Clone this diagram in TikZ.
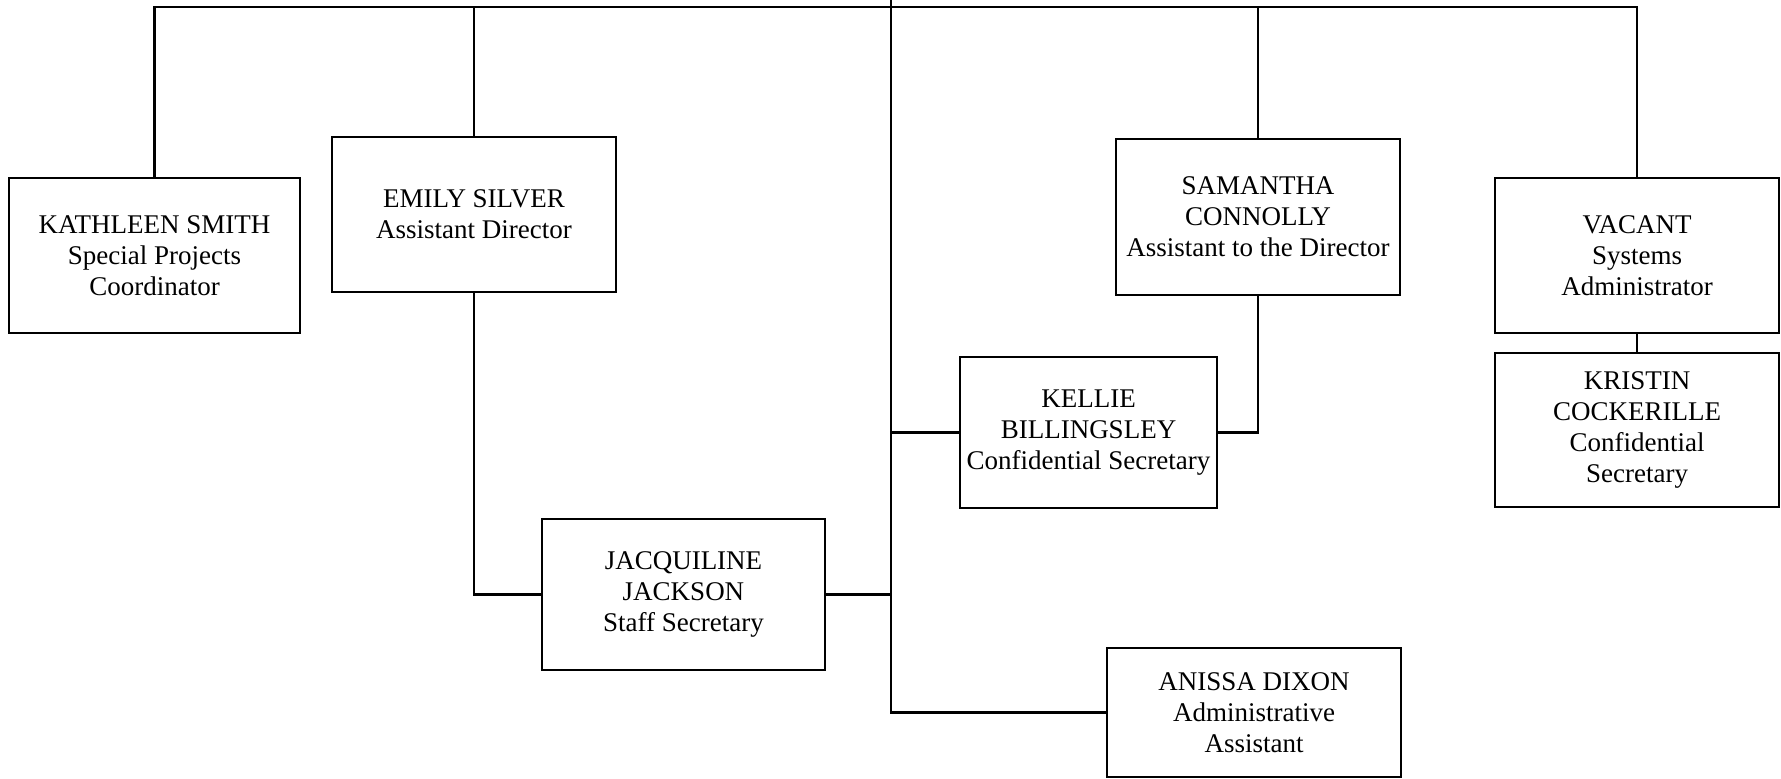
\documentclass[tikz,border=0pt]{standalone}
\usepackage{fontspec}
\setmainfont{Liberation Serif}
\begin{document}
\begin{tikzpicture}[x=1pt,y=-1pt,
  line width=2.6pt,
  box/.style={draw=black, rectangle, inner sep=0pt, align=center,
    font=\fontsize{27}{31}\selectfont, text=black},
  link/.style={draw=black, line width=2.6pt}]
\useasboundingbox (0,0) rectangle (1781,779);
\fill[white] (0,0) rectangle (1781,779);
% boxes (center, width, height)
\node[box, minimum width=291pt, minimum height=155pt] (kathleen) at (154.5,255.5)
  {KATHLEEN SMITH\\Special Projects\\Coordinator};
\node[box, minimum width=284pt, minimum height=155pt] (emily) at (474,214.5)
  {EMILY SILVER\\Assistant Director};
\node[box, minimum width=284pt, minimum height=156pt] (samantha) at (1258,217)
  {SAMANTHA\\CONNOLLY\\Assistant to the Director};
\node[box, minimum width=284pt, minimum height=155pt] (vacant) at (1637,255.5)
  {VACANT\\Systems\\Administrator};
\node[box, minimum width=284pt, minimum height=154pt] (kristin) at (1637,430)
  {KRISTIN\\COCKERILLE\\Confidential\\Secretary};
\node[box, minimum width=257pt, minimum height=151pt] (kellie) at (1088.5,432.5)
  {KELLIE\\BILLINGSLEY\\Confidential Secretary};
\node[box, minimum width=283pt, minimum height=151pt] (jacq) at (683.5,594.5)
  {JACQUILINE\\JACKSON\\Staff Secretary};
\node[box, minimum width=294pt, minimum height=129pt] (anissa) at (1254,712.5)
  {ANISSA DIXON\\Administrative\\Assistant};
% bus coordinates
\coordinate (bus) at (0,7);
\coordinate (topC) at (891,0);
% connectors
\draw[link] (kathleen.north) -- (kathleen.north |- bus) -- (vacant.north |- bus) -- (vacant.north);
\draw[link] (emily.north) -- (emily.north |- bus);
\draw[link] (samantha.north) -- (samantha.north |- bus);
\draw[link] (topC) |- (anissa.west);
\draw[link] (emily.south) |- (jacq.west);
\draw[link] (jacq.east) -- (jacq.east -| topC);
\draw[link] (kellie.west) -- (kellie.west -| topC);
\draw[link] (kellie.east) -| (samantha.south);
\draw[link] (vacant.south) -- (kristin.north);
\end{tikzpicture}
\end{document}
